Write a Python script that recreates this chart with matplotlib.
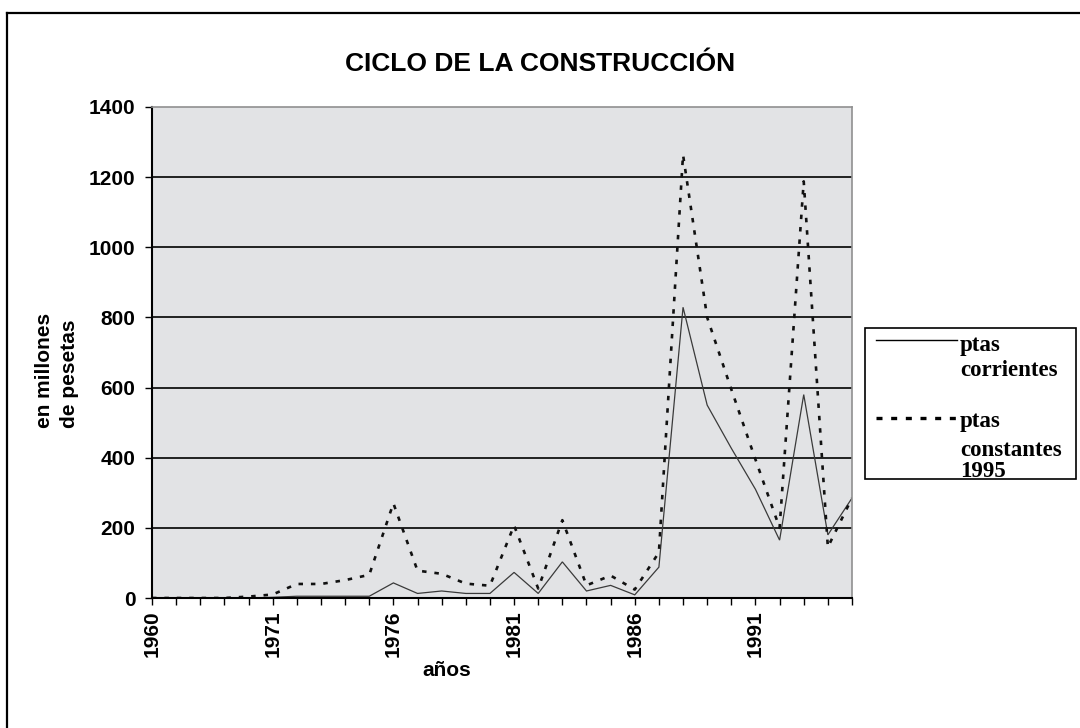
import matplotlib
matplotlib.use("Agg")
import matplotlib.pyplot as plt
from matplotlib.lines import Line2D
from matplotlib.patches import Rectangle
import numpy as np

# years on the category axis (only every 5th one is labelled)
years = [1960, 1967, 1968, 1969, 1970] + list(range(1971, 1996))
corrientes = [0, 0, 0, 0, 0, 2, 5, 5, 5, 5, 43, 13, 20, 13, 13, 73, 13, 103, 20, 36,
              9, 88, 829, 550, 427, 310, 165, 580, 180, 285]
constantes = [0, 0, 0, 0, 4, 10, 40, 40, 51, 66, 270, 78, 69, 41, 35, 207, 27, 222, 36, 64,
              24, 130, 1264, 800, 595, 395, 200, 1188, 145, 285]
yticks = [0, 200, 400, 600, 800, 1000, 1200, 1400]

W, H = 1080, 728
fig = plt.figure(figsize=(W / 100, H / 100), dpi=100)
fig.patch.set_facecolor("white")

def fx(px):
    return px / W

def fy(py):
    return 1 - py / H

ax = fig.add_axes([fx(152), fy(598), fx(700), 491 / H])
ax.set_facecolor("#e2e3e5")

x = np.arange(len(years))
ax.plot(x, corrientes, color="#3a3a3a", lw=0.9, solid_joinstyle="miter")
ax.plot(x, constantes, color="#111111", lw=1.9, linestyle=(0, (1.7, 3.0)))

ax.set_xlim(0, len(years) - 1)
ax.set_ylim(0, 1400)
ax.set_yticks(yticks)
ax.set_yticklabels([str(v) for v in yticks])
ax.set_xticks(x)
ax.set_xticklabels([str(y) if i % 5 == 0 else "" for i, y in enumerate(years)],
                   rotation=90, va="top", ha="center")

font = "Liberation Sans"
for lab in ax.get_xticklabels() + ax.get_yticklabels():
    lab.set_fontfamily(font)
    lab.set_fontweight("bold")
    lab.set_fontsize(15)

ax.tick_params(axis="y", direction="out", length=5, width=1, pad=7, colors="black")
ax.tick_params(axis="x", direction="out", length=5, width=1, pad=4, colors="black")

ax.yaxis.grid(True, color="black", lw=1.2)
ax.set_axisbelow(True)
ax.get_ygridlines()[-1].set_visible(False)

for s in ["left", "bottom"]:
    ax.spines[s].set_color("black")
    ax.spines[s].set_linewidth(1.5)
for s in ["top", "right"]:
    ax.spines[s].set_color("#909090")
    ax.spines[s].set_linewidth(1.2)

fig.text(0.5, fy(64), "CICLO DE LA CONSTRUCCIÓN", ha="center", va="center",
         fontfamily=font, fontweight="bold", fontsize=19)
fig.text(fx(57), fy(370), "en millones\nde pesetas", rotation=90, ha="center", va="center",
         multialignment="left", linespacing=1.35,
         fontfamily=font, fontweight="bold", fontsize=15)
fig.text(fx(447), fy(670), "años", ha="center", va="center",
         fontfamily=font, fontweight="bold", fontsize=15)

# legend drawn by hand so the handle sits on the first text line
fig.add_artist(Rectangle((fx(865), fy(479)), fx(1076 - 865), (479 - 328) / H,
                         transform=fig.transFigure, facecolor="white",
                         edgecolor="black", lw=1.2))
fig.add_artist(Line2D([fx(876), fx(957)], [fy(340), fy(340)], transform=fig.transFigure,
                      color="black", lw=1.0))
fig.add_artist(Line2D([fx(876), fx(957)], [fy(418), fy(418)], transform=fig.transFigure,
                      color="black", lw=2.4, linestyle=(0, (1.8, 2.6))))
serif = dict(fontfamily="Liberation Serif", fontweight="bold", fontsize=16.5,
             ha="left", va="baseline")
for txt, py in [("ptas", 351), ("corrientes", 376), ("ptas", 427),
                ("constantes", 456), ("1995", 477)]:
    fig.text(fx(960), fy(py), txt, **serif)

# outer frame (only top and left edges fall inside the picture)
fig.add_artist(Line2D([fx(7), fx(7)], [fy(13), 0], transform=fig.transFigure,
                      color="black", lw=1.6))
fig.add_artist(Line2D([fx(7), 1], [fy(13), fy(13)], transform=fig.transFigure,
                      color="black", lw=1.6))

fig.savefig("out.png", dpi=100)
